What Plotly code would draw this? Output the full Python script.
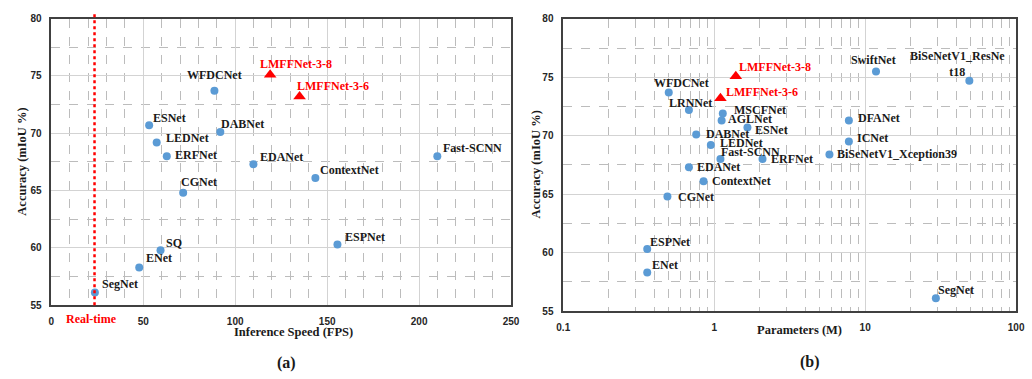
import math
import plotly.graph_objects as go

# ---------------- data ----------------
# (a) Inference speed vs accuracy
A_NAMES = ["SegNet", "ENet", "SQ", "CGNet", "ESNet", "LEDNet", "ERFNet", "WFDCNet",
           "DABNet", "EDANet", "ContextNet", "ESPNet", "Fast-SCNN"]
A_FPS = [23.7, 47.8, 59.4, 71.7, 53.2, 57.3, 62.8, 88.7, 91.9, 109.9, 143.6, 155.6, 209.9]
A_MIOU = [56.1, 58.3, 59.8, 64.8, 70.7, 69.2, 68.0, 73.7, 70.1, 67.3, 66.1, 60.3, 68.0]
A_OURS_NAMES = ["LMFFNet-3-8", "LMFFNet-3-6"]
A_OURS_FPS = [119.0, 135.0]
A_OURS_MIOU = [75.1, 73.2]
REALTIME_FPS = 23.5

# (b) Parameters vs accuracy
B_NAMES = ["WFDCNet", "LRNNet", "MSCFNet", "AGLNet", "ESNet", "DABNet", "LEDNet", "Fast-SCNN",
           "ERFNet", "EDANet", "ContextNet", "CGNet", "ESPNet", "ENet", "SegNet", "SwiftNet",
           "BiSeNetV1_ResNet18", "DFANet", "ICNet", "BiSeNetV1_Xception39"]
B_PARAMS = [0.50, 0.68, 1.14, 1.12, 1.66, 0.76, 0.95, 1.10, 2.09, 0.68, 0.85, 0.49, 0.36,
            0.36, 29.4, 11.8, 49.0, 7.8, 7.8, 5.8]
B_MIOU = [73.7, 72.2, 71.9, 71.3, 70.7, 70.1, 69.2, 68.0, 68.0, 67.3, 66.1, 64.8, 60.3,
          58.3, 56.1, 75.5, 74.7, 71.3, 69.5, 68.4]
B_OURS_NAMES = ["LMFFNet-3-8", "LMFFNet-3-6"]
B_OURS_PARAMS = [1.39, 1.10]
B_OURS_MIOU = [75.1, 73.2]

X_TICKS_A = [0, 50, 100, 150, 200, 250]
Y_TICKS = [55, 60, 65, 70, 75, 80]
X_TICKS_B = [0.1, 1, 10, 100]
X_TICK_TEXT_B = ["0.1", "1", "10", "100"]
X_MINOR_B = [0.2, 0.3, 0.4, 0.5, 0.6, 0.7, 0.8, 0.9, 2, 3, 4, 5, 6, 7, 8, 9,
             20, 30, 40, 50, 60, 70, 80, 90]

# ---------------- styles ----------------
W, H = 1032, 379
SERIF = "Liberation Serif, Times New Roman, serif"
SANS = "Liberation Sans, Arial, sans-serif"
BLUE = "#5B9BD5"
RED = "#FF0000"
TXT = "#1a1a1a"

# label placement: (xanchor, dx px, dy px up)
A_LABEL_POS = {
    "SegNet": ("left", 6, 9), "ENet": ("left", 6, 9), "SQ": ("left", 4, 7),
    "CGNet": ("left", -3, 11), "ESNet": ("left", 3, 7), "LEDNet": ("left", 8, 4),
    "ERFNet": ("left", 7, 1), "WFDCNet": ("center", 0, 16), "DABNet": ("left", 0, 8),
    "EDANet": ("left", 6, 7), "ContextNet": ("left", 4, 8), "ESPNet": ("left", 7, 7),
    "Fast-SCNN": ("left", 5, 8), "LMFFNet-3-8": ("left", -11, 11),
    "LMFFNet-3-6": ("left", -4, 11),
}
B_LABEL_POS = {
    "WFDCNet": ("left", -16, 9), "LRNNet": ("left", -21, 7), "LMFFNet-3-6": ("left", 5, 6),
    "LMFFNet-3-8": ("left", 2, 9), "MSCFNet": ("left", 10, 4), "AGLNet": ("left", 5, 2),
    "ESNet": ("left", 7, -2), "DABNet": ("left", 9, 1), "LEDNet": ("left", 8, 2),
    "Fast-SCNN": ("left", 0, 7), "ERFNet": ("left", 7, 0), "EDANet": ("left", 7, 0),
    "ContextNet": ("left", 7, 0), "SwiftNet": ("center", -3, 11),
    "BiSeNetV1_ResNet18": ("center", -12, 17), "DFANet": ("left", 8, 3),
    "ICNet": ("left", 7, 4), "BiSeNetV1_Xception39": ("left", 7, 0),
    "CGNet": ("left", 10, 0), "ESPNet": ("left", 2, 7), "ENet": ("left", 4, 7),
    "SegNet": ("left", 1, 8),
}
B_LABEL_TEXT = {"BiSeNetV1_ResNet18": "BiSeNetV1_ResNe<br>t18"}

# panel geometry (pixels)
A_X0, A_X1, A_Y0, A_Y1 = 45, 512, 13, 309
B_X0, B_X1, B_Y0, B_Y1 = 565, 1025, 13.3, 315


def dom_x(a, b):
    return [a / W, b / W]


def dom_y(top, bot):
    return [1 - bot / H, 1 - top / H]


fig = go.Figure()

fig.add_trace(go.Scatter(x=A_FPS, y=A_MIOU, mode="markers", xaxis="x", yaxis="y",
                         marker=dict(color=BLUE, size=8), showlegend=False))
fig.add_trace(go.Scatter(x=A_OURS_FPS, y=A_OURS_MIOU, mode="markers", xaxis="x", yaxis="y",
                         marker=dict(color=RED, size=11, symbol="triangle-up"), showlegend=False))
fig.add_trace(go.Scatter(x=B_PARAMS, y=B_MIOU, mode="markers", xaxis="x2", yaxis="y2",
                         marker=dict(color=BLUE, size=8), showlegend=False))
fig.add_trace(go.Scatter(x=B_OURS_PARAMS, y=B_OURS_MIOU, mode="markers", xaxis="x2", yaxis="y2",
                         marker=dict(color=RED, size=11, symbol="triangle-up"), showlegend=False))

annots = []


def add_labels(names, xs, ys, pos, xref, yref, color, texts=None, logx=False):
    for n, x, y in zip(names, xs, ys):
        anc, dx, dy = pos[n]
        t = texts.get(n, n) if texts else n
        ax = math.log10(x) if logx else x
        annots.append(dict(x=ax, y=y, xref=xref, yref=yref, text=t, showarrow=False,
                           xanchor=anc, yanchor="middle", xshift=dx, yshift=dy,
                           borderpad=0,
                           font=dict(family=SERIF, size=12, color=color, weight="bold")))


add_labels(A_NAMES, A_FPS, A_MIOU, A_LABEL_POS, "x", "y", TXT)
add_labels(A_OURS_NAMES, A_OURS_FPS, A_OURS_MIOU, A_LABEL_POS, "x", "y", RED)
add_labels(B_NAMES, B_PARAMS, B_MIOU, B_LABEL_POS, "x2", "y2", TXT, B_LABEL_TEXT, logx=True)
add_labels(B_OURS_NAMES, B_OURS_PARAMS, B_OURS_MIOU, B_LABEL_POS, "x2", "y2", RED, logx=True)

title_font = dict(family=SERIF, size=12.5, color=TXT, weight="bold")
sub_font = dict(family=SERIF, size=16, color=TXT, weight="bold")


def paper_pt(px, py):
    return px / W, 1 - py / H


for txt, (px, py), ang, f in [
    ("Inference Speed (FPS)", (291, 336.5), 0, title_font),
    ("Parameters (M)", (805, 335), 0, title_font),
    ("Accuracy (mIoU %)", (15, 161), -90, title_font),
    ("Accuracy (mIoU %)", (537, 164), -90, title_font),
    ("(a)", (284, 369), 0, sub_font),
    ("(b)", (816, 368), 0, sub_font),
    ("Real-time", (86, 323.5), 0, dict(family=SERIF, size=12, color=RED, weight="bold")),
]:
    x, y = paper_pt(px, py)
    annots.append(dict(x=x, y=y, xref="paper", yref="paper", text=txt, showarrow=False,
                       xanchor="center", yanchor="middle", textangle=ang, font=f))

tick_font = dict(family=SANS, size=10, color="#262626", weight="bold")
GRID = "#d3d3d3"
MINOR = "#bcbcbc"
FRAME = "#404040"

common_axis = dict(showline=True, linecolor=FRAME, linewidth=1.5, mirror=True,
                   ticks="", tickfont=tick_font, zeroline=False, showgrid=True,
                   gridcolor=GRID, gridwidth=1)

fig.update_layout(
    width=W, height=H, margin=dict(l=0, r=0, t=0, b=0),
    paper_bgcolor="white", plot_bgcolor="white", showlegend=False,
    xaxis=dict(domain=dom_x(A_X0, A_X1), range=[0, 250], tickvals=X_TICKS_A, anchor="y",
               minor=dict(dtick=10, showgrid=True, gridcolor=MINOR, griddash="dash", gridwidth=1),
               ticklabelstandoff=6, **common_axis),
    yaxis=dict(domain=dom_y(A_Y0, A_Y1), range=[55, 80], tickvals=Y_TICKS, anchor="x",
               minor=dict(dtick=2.5, showgrid=True, gridcolor=MINOR, griddash="dash", gridwidth=1),
               ticklabelstandoff=6, **common_axis),
    xaxis2=dict(domain=dom_x(B_X0, B_X1), type="log", range=[-1, 2], tickvals=X_TICKS_B,
                ticktext=X_TICK_TEXT_B, anchor="y2",
                minor=dict(tickvals=X_MINOR_B, showgrid=True, gridcolor=MINOR, griddash="dash",
                           gridwidth=1),
                ticklabelstandoff=6, **common_axis),
    yaxis2=dict(domain=dom_y(B_Y0, B_Y1), range=[55, 80], tickvals=Y_TICKS, anchor="x2",
                minor=dict(dtick=2.5, showgrid=True, gridcolor=MINOR, griddash="dash", gridwidth=1),
                ticklabelstandoff=6, **common_axis),
    annotations=annots,
    shapes=[dict(type="line", xref="x", yref="paper", x0=REALTIME_FPS, x1=REALTIME_FPS,
                 y0=1 - A_Y1 / H, y1=1 - 7 / H,
                 line=dict(color=RED, width=2.5, dash="dot"), layer="above")],
)

fig.write_html("out.html")
